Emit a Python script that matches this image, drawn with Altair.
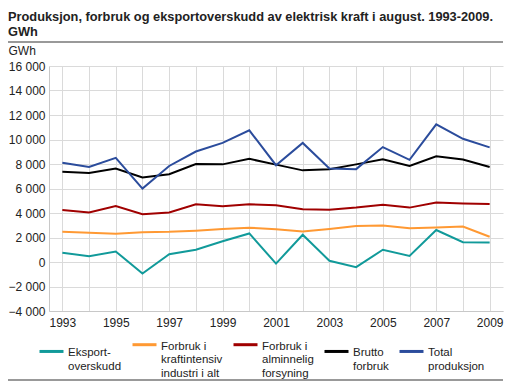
import altair as alt
import pandas as pd

years = list(range(1993, 2010))

eksport = [760, 470, 860, -940, 630, 1000, 1700, 2330, -130, 2220, 100, -420, 1000, 500, 2610, 1620, 1590]
kraftintensiv = [2460, 2380, 2300, 2430, 2460, 2560, 2690, 2800, 2670, 2480, 2690, 2930, 2980, 2750, 2820, 2900, 2060]
alminnelig = [4240, 4050, 4570, 3900, 4050, 4710, 4550, 4710, 4630, 4310, 4260, 4440, 4680, 4440, 4860, 4780, 4730]
brutto = [7370, 7270, 7630, 6900, 7160, 8000, 7970, 8420, 7950, 7480, 7580, 7970, 8390, 7840, 8630, 8370, 7760]
total = [8100, 7760, 8500, 5990, 7840, 9020, 9720, 10750, 7900, 9720, 7630, 7580, 9380, 8340, 11240, 10060, 9360]

series_names = [
    "Eksport-|overskudd",
    "Forbruk i|kraftintensiv|industri i alt",
    "Forbruk i|alminnelig|forsyning",
    "Brutto|forbruk",
    "Total|produksjon",
]
series_values = [eksport, kraftintensiv, alminnelig, brutto, total]
series_colors = ["#119a9a", "#ff9933", "#a00000", "#000000", "#2b4c9c"]

title_lines = ["Produksjon, forbruk og eksportoverskudd av elektrisk kraft i august. 1993-2009.", "GWh"]
y_title = "GWh"

rows = []
for name, vals in zip(series_names, series_values):
    for yr, v in zip(years, vals):
        rows.append({"year": yr, "value": v, "series": name, "order": series_names.index(name)})
df = pd.DataFrame(rows)

FONT = "Liberation Sans"
W, H = 454, 245

lines = alt.Chart(df).mark_line(strokeWidth=2).encode(
    x=alt.X(
        "year:Q",
        scale=alt.Scale(domain=[1992.5, 2009.5], nice=False, zero=False),
        axis=alt.Axis(
            values=years,
            labelExpr="datum.value % 2 == 1 ? toString(datum.value) : ''",
            title=None,
            grid=True,
            ticks=False,
            domainColor="#c8c8c8",
            labelPadding=6,
            labelFontSize=12,
            labelColor="#222222",
            labelFont=FONT,
        ),
    ),
    y=alt.Y(
        "value:Q",
        scale=alt.Scale(domain=[-4000, 16000], nice=False),
        axis=alt.Axis(
            values=list(range(-4000, 16001, 2000)),
            labelExpr="replace(format(datum.value, ','), ',', ' ')",
            title=y_title,
            titleAngle=0,
            titleX=-41,
            titleY=-16,
            titleAlign="left",
            titleBaseline="middle",
            titleFontWeight="normal",
            titleFontSize=12,
            titleFont=FONT,
            titleColor="#222222",
            grid=True,
            ticks=False,
            domainColor="#c8c8c8",
            labelPadding=4,
            labelFontSize=12,
            labelColor="#222222",
            labelFont=FONT,
        ),
    ),
    color=alt.Color(
        "series:N",
        scale=alt.Scale(domain=series_names, range=series_colors),
        legend=alt.Legend(
            title=None,
            orient="none",
            legendX=-11,
            legendY=261,
            direction="horizontal",
            columns=5,
            columnPadding=4,
            symbolType="M-1,0.35L1,0.35",
            symbolSize=576,
            symbolStrokeWidth=3,
            labelExpr="split(datum.label, '|')",
            labelBaseline="top",
            labelFontSize=11.5,
            labelFont=FONT,
            labelColor="#222222",
            labelOffset=3,
            labelLimit=200,
        ),
    ),
    order="order:Q",
)

top_rule = alt.Chart(df).mark_rule(color="#999999", strokeWidth=2).encode(
    x=alt.value(-41), x2=alt.value(W), y=alt.value(-24)
)
bottom_rule = alt.Chart(df).mark_rule(color="#999999", strokeWidth=2).encode(
    x=alt.value(-41), x2=alt.value(W), y=alt.value(314)
)

chart = alt.layer(lines, top_rule, bottom_rule).properties(
    width=W,
    height=H,
    autosize=alt.AutoSizeParams(type="none"),
    padding={"left": 41, "top": 58, "right": 1, "bottom": 71},
    title=alt.TitleParams(
        text=title_lines,
        anchor="start",
        frame="group",
        dx=-41,
        offset=2,
        fontSize=12.8,
        fontWeight="bold",
        font=FONT,
        color="#222222",
        lineHeight=15,
    ),
).configure_view(stroke=None).configure_axis(gridColor="#dadada", gridWidth=1)

chart.save("out.html", embed_options={"renderer": "svg", "actions": False})
